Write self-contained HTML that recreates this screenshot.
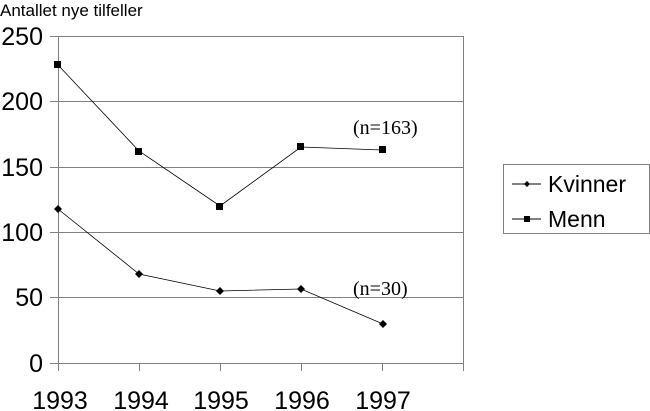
<!DOCTYPE html>
<html><head><style>body{margin:0;background:#fff}svg{display:block}</style></head><body>
<svg width="650" height="411" xmlns="http://www.w3.org/2000/svg" font-family="Liberation Sans, Arial, sans-serif">
<text x="0" y="16" font-size="17">Antallet nye tilfeller</text>
<g stroke="#808080" stroke-width="1">
<line x1="50" y1="36.5" x2="464" y2="36.5"/>
<line x1="50" y1="101.5" x2="464" y2="101.5"/>
<line x1="50" y1="167.5" x2="464" y2="167.5"/>
<line x1="50" y1="232.5" x2="464" y2="232.5"/>
<line x1="50" y1="297.5" x2="464" y2="297.5"/>
<line x1="50" y1="363.5" x2="464" y2="363.5"/>
<line x1="58.5" y1="36" x2="58.5" y2="371"/>
<line x1="463.5" y1="36" x2="463.5" y2="371"/>
<line x1="139.5" y1="363" x2="139.5" y2="371"/>
<line x1="220.5" y1="363" x2="220.5" y2="371"/>
<line x1="301.5" y1="363" x2="301.5" y2="371"/>
<line x1="382.5" y1="363" x2="382.5" y2="371"/>
</g>
<g font-size="25" text-anchor="end">
<text x="43" y="45">250</text><text x="43" y="110">200</text><text x="43" y="176">150</text>
<text x="43" y="241">100</text><text x="43" y="306">50</text><text x="43" y="372">0</text>
</g>
<g font-size="25" text-anchor="middle">
<text x="60" y="409">1993</text><text x="141" y="409">1994</text><text x="221" y="409">1995</text>
<text x="302" y="409">1996</text><text x="383" y="409">1997</text>
</g>
<polyline fill="none" stroke="#000" stroke-width="0.8" points="58,65 139,151 220,206 301,147 383,150"/>
<g fill="#000">
<rect x="54" y="61" width="7" height="7"/><rect x="135" y="148" width="7" height="7"/><rect x="216" y="203" width="7" height="7"/><rect x="297" y="143" width="7" height="7"/><rect x="379" y="146" width="7" height="7"/>
</g>
<polyline fill="none" stroke="#000" stroke-width="0.8" points="58,209 139,274 220,291 301,289 383,324"/>
<g fill="#000">
<path d="M58 205l4 4-4 4-4-4z"/><path d="M139 270l4 4-4 4-4-4z"/><path d="M220 287l4 4-4 4-4-4z"/><path d="M301 285l4 4-4 4-4-4z"/><path d="M383 320l4 4-4 4-4-4z"/>
</g>
<g font-family="Liberation Serif, serif" font-size="20">
<text x="353" y="134">(n=163)</text><text x="353" y="295">(n=30)</text>
</g>
<rect x="503.5" y="164.5" width="146" height="69" fill="none" stroke="#808080"/>
<line x1="512" y1="184" x2="541" y2="184" stroke="#000"/>
<path d="M527 181l3 3-3 3-3-3z" fill="#000"/>
<line x1="512" y1="219" x2="541" y2="219" stroke="#000"/>
<rect x="524" y="216" width="6" height="6" fill="#000"/>
<text x="548" y="192" font-size="23">Kvinner</text>
<text x="548" y="227" font-size="23">Menn</text>
</svg>
</body></html>
